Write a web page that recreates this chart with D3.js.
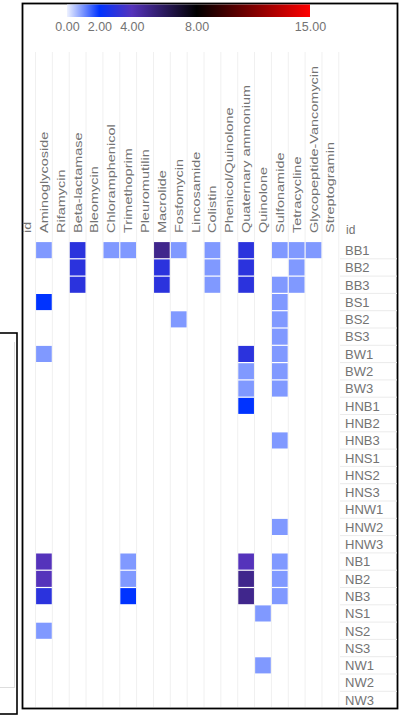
<!DOCTYPE html>
<html>
<head>
  <meta charset="utf-8">
  <title>Resistance heatmap</title>
  <script src="https://d3js.org/d3.v7.min.js"></script>
  <style>
    body { margin: 0; background: #fff; }
    text { font-family: "Liberation Sans", Arial, sans-serif; fill: #737373; }
  </style>
</head>
<body>
<script>
const width = 408;
const height = 716;

// antibiotic classes (columns)
const classes = ['Aminoglycoside', 'Rifamycin', 'Beta-lactamase', 'Bleomycin', 'Chloramphenicol',
  'Trimethoprim', 'Pleuromutilin', 'Macrolide', 'Fosfomycin', 'Lincosamide', 'Colistin',
  'Phenicol/Quinolone', 'Quaternary ammonium', 'Quinolone', 'Sulfonamide', 'Tetracycline',
  'Glycopeptide-Vancomycin', 'Streptogramin'];

// sample ids (rows)
const ids = ['BB1', 'BB2', 'BB3', 'BS1', 'BS2', 'BS3', 'BW1', 'BW2', 'BW3',
  'HNB1', 'HNB2', 'HNB3', 'HNS1', 'HNS2', 'HNS3', 'HNW1', 'HNW2', 'HNW3',
  'NB1', 'NB2', 'NB3', 'NS1', 'NS2', 'NS3', 'NW1', 'NW2', 'NW3'];

// gene counts, one row per id, in the order of classes
const counts = [
  [1,0,3,0,1,1,0,5,1,0,1,0,3,0,1,1,1,0], // BB1
  [0,0,3,0,0,0,0,3,0,0,1,0,3,0,0,1,0,0], // BB2
  [0,0,3,0,0,0,0,3,0,0,1,0,3,0,1,1,0,0], // BB3
  [2,0,0,0,0,0,0,0,0,0,0,0,0,0,1,0,0,0], // BS1
  [0,0,0,0,0,0,0,0,1,0,0,0,0,0,1,0,0,0], // BS2
  [0,0,0,0,0,0,0,0,0,0,0,0,0,0,1,0,0,0], // BS3
  [1,0,0,0,0,0,0,0,0,0,0,0,3,0,1,0,0,0], // BW1
  [0,0,0,0,0,0,0,0,0,0,0,0,1,0,1,0,0,0], // BW2
  [0,0,0,0,0,0,0,0,0,0,0,0,1,0,1,0,0,0], // BW3
  [0,0,0,0,0,0,0,0,0,0,0,0,2,0,0,0,0,0], // HNB1
  [0,0,0,0,0,0,0,0,0,0,0,0,0,0,0,0,0,0], // HNB2
  [0,0,0,0,0,0,0,0,0,0,0,0,0,0,1,0,0,0], // HNB3
  [0,0,0,0,0,0,0,0,0,0,0,0,0,0,0,0,0,0], // HNS1
  [0,0,0,0,0,0,0,0,0,0,0,0,0,0,0,0,0,0], // HNS2
  [0,0,0,0,0,0,0,0,0,0,0,0,0,0,0,0,0,0], // HNS3
  [0,0,0,0,0,0,0,0,0,0,0,0,0,0,0,0,0,0], // HNW1
  [0,0,0,0,0,0,0,0,0,0,0,0,0,0,1,0,0,0], // HNW2
  [0,0,0,0,0,0,0,0,0,0,0,0,0,0,0,0,0,0], // HNW3
  [4,0,0,0,0,1,0,0,0,0,0,0,4,0,1,0,0,0], // NB1
  [4,0,0,0,0,1,0,0,0,0,0,0,5,0,1,0,0,0], // NB2
  [3,0,0,0,0,2,0,0,0,0,0,0,5,0,1,0,0,0], // NB3
  [0,0,0,0,0,0,0,0,0,0,0,0,0,1,0,0,0,0], // NS1
  [1,0,0,0,0,0,0,0,0,0,0,0,0,0,0,0,0,0], // NS2
  [0,0,0,0,0,0,0,0,0,0,0,0,0,0,0,0,0,0], // NS3
  [0,0,0,0,0,0,0,0,0,0,0,0,0,1,0,0,0,0], // NW1
  [0,0,0,0,0,0,0,0,0,0,0,0,0,0,0,0,0,0], // NW2
  [0,0,0,0,0,0,0,0,0,0,0,0,0,0,0,0,0,0]  // NW3
];

// colour legend
const legendStops = [0, 2, 4, 8, 15];
const legendColors = ['#ffffff', '#0033ff', '#5533bb', '#000000', '#ff0000'];
const legendTicks = [0, 2, 4, 8, 15];

const svg = d3.select('body')
  .append('svg')
  .attr('width', width)
  .attr('height', height);

const color = d3.scaleLinear().domain(legendStops).range(legendColors);

const x = d3.scaleBand()
  .domain(classes)
  .range([35.5, 35.5 + classes.length * 16.85]);

const y = d3.scaleBand()
  .domain(ids)
  .range([241.5, 241.5 + ids.length * 17.3]);

// piece of the neighbouring panel on the left
svg.append('rect')
  .attr('x', -2).attr('y', 333).attr('width', 19).attr('height', 381)
  .attr('fill', 'none').attr('stroke', '#000').attr('stroke-width', 1.6);
svg.append('line')
  .attr('x1', 14.5).attr('x2', 14.5).attr('y1', 342).attr('y2', 688)
  .attr('stroke', '#ddd');
svg.append('line')
  .attr('x1', 0).attr('x2', 14.5).attr('y1', 687.5).attr('y2', 687.5)
  .attr('stroke', '#ddd');

// main frame
svg.append('rect')
  .attr('x', 22.5).attr('y', 3.5).attr('width', 375).attr('height', 705)
  .attr('fill', 'none').attr('stroke', '#000').attr('stroke-width', 1.8);

// legend bar
const grad = svg.append('defs').append('linearGradient')
  .attr('id', 'lg').attr('x1', '0%').attr('x2', '100%');
grad.selectAll('stop')
  .data(legendStops)
  .enter().append('stop')
  .attr('offset', d => d / 15)
  .attr('stop-color', (d, i) => d === 0 ? '#eef2ff' : legendColors[i]);

const lx = d3.scaleLinear().domain([0, 15]).range([67, 310]);
svg.append('rect')
  .attr('x', lx(0)).attr('y', 4.5).attr('width', lx(15) - lx(0)).attr('height', 12.5)
  .attr('fill', 'url(#lg)');

svg.append('g')
  .attr('transform', 'translate(0, 19)')
  .call(d3.axisBottom(lx).tickValues(legendTicks).tickFormat(d3.format('.2f')).tickSize(0))
  .call(g => g.select('.domain').remove())
  .call(g => g.selectAll('text').attr('font-size', 12.5).attr('fill', '#737373')
    .attr('font-family', '"Liberation Sans", Arial, sans-serif'));

// vertical grid lines
svg.append('g')
  .selectAll('line')
  .data(d3.range(classes.length + 1))
  .enter().append('line')
  .attr('x1', i => x.range()[0] + i * x.step())
  .attr('x2', i => x.range()[0] + i * x.step())
  .attr('y1', 52).attr('y2', 707)
  .attr('stroke', '#f0f0f0');

// horizontal lines behind row labels
svg.append('g')
  .selectAll('line')
  .data(ids.slice(1))
  .enter().append('line')
  .attr('x1', 340).attr('x2', 397)
  .attr('y1', d => y(d)).attr('y2', d => y(d))
  .attr('stroke', '#ebebeb');

// column headers, rotated
const headerY = 233;
svg.append('g')
  .selectAll('text')
  .data(['id'].concat(classes))
  .enter().append('text')
  .attr('transform', (d, i) => {
    const cx = i === 0 ? x.range()[0] - x.step() / 2 : x(d) + x.bandwidth() / 2;
    return `translate(${cx + 4},${headerY}) scale(1,1.45) rotate(-90)`;
  })
  .attr('font-size', 10)
  .text(d => d);

// heatmap cells
const cells = [];
ids.forEach((id, r) => classes.forEach((c, k) => {
  if (counts[r][k] > 0) cells.push({ id: id, cls: c, v: counts[r][k] });
}));

svg.append('g')
  .selectAll('rect')
  .data(cells)
  .enter().append('rect')
  .attr('x', d => x(d.cls) + 0.6)
  .attr('y', d => y(d.id) + 0.6)
  .attr('width', x.bandwidth() - 1.2)
  .attr('height', y.bandwidth() - 1.2)
  .attr('fill', d => color(d.v));

// row labels
svg.append('text')
  .attr('x', 346).attr('y', headerY + 1)
  .attr('font-size', 12)
  .text('id');

svg.append('g')
  .selectAll('text')
  .data(ids)
  .enter().append('text')
  .attr('x', 345)
  .attr('y', d => y(d) + y.bandwidth() / 2 + 4.8)
  .attr('font-size', 13)
  .text(d => d);
</script>
</body>
</html>
